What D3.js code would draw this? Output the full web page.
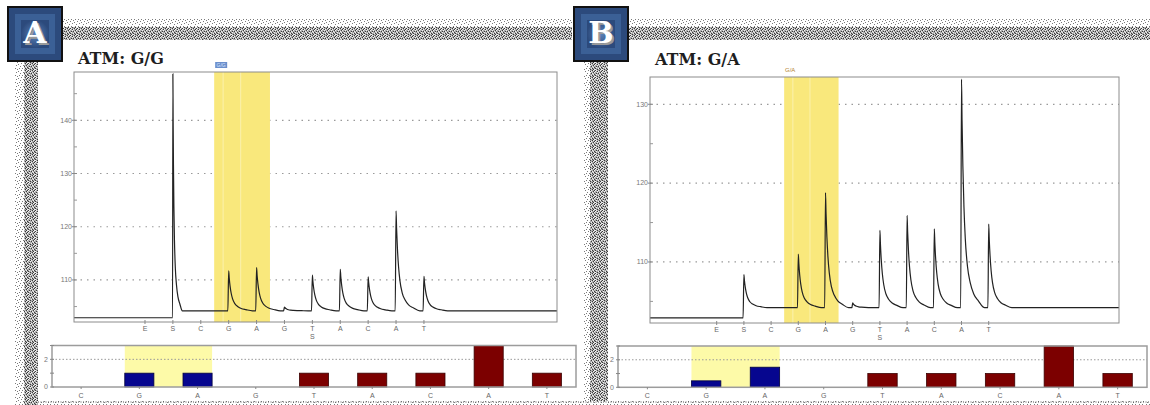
<!DOCTYPE html>
<html><head><meta charset="utf-8">
<script src="https://cdn.jsdelivr.net/npm/d3@7"></script>
<style>body{margin:0;background:#fff;} svg{display:block;}</style>
</head><body><svg id="c" width="1150" height="405"></svg>
<script>
// ---------- data ----------
const dispensations = ["E","S","C","G","A","G","T","A","C","A","T"];
const peaksA = [null,148.7,null,111.7,112.3,104.9,110.9,112.0,110.6,123.0,110.7];
const peaksB = [null,108.4,null,111.0,118.8,104.8,114.0,115.9,114.2,133.2,114.8];
const baselineA = [102.9,104.2];
const baselineB = [102.9,104.2];
const peakWidthA = [1,0.4,1,1,1,1,1,1,1,1,1];
const peakWidthB = [1,1,1,1,1,1,1,1,1,1,1];
const decayOffsets   = [-0.03,0,0.02,0.05,0.09,0.14,0.22,0.32,0.45,0.62,0.85];
const decayFractions = [0,1,0.82,0.62,0.44,0.30,0.18,0.11,0.06,0.03,0];
const yTicksA = [110,120,130,140];
const yTicksB = [110,120,130];
const yMinorA = [105,115,125,135,145];
const yMinorB = [105,115,125];
const snpRange = [2.48,4.48];
const histCategories = ["C","G","A","G","T","A","C","A","T"];
const histA = [0,1,1,0,1,1,1,3,1];
const histB = [0,0.47,1.46,0,1,1,1,3,1];
const histSnp = [1,2];
const histTicks = [0,1,2,3];
const histTickLabels = ["0","","2",""];
const titles = ["ATM: G/G","ATM: G/A"];
const badges = ["A","B"];
const snpLabels = ["G/G","G/A"];

// ---------- layout ----------
const panels = [
  {peaks:peaksA, widths:peakWidthA, base:baselineA, yTicks:yTicksA, yMinor:yMinorA, hist:histA,
   title:titles[0], badge:badges[0], snp:snpLabels[0],
   frame:{l:74,r:557,t:72,b:322}, xDom:[-2.545,14.77], yDom:[102.1,149.07],
   hframe:{l:52,r:576,t:345.5,b:387}, badgeX:8, titleX:78, titleY:64},
  {peaks:peaksB, widths:peakWidthB, base:baselineB, yTicks:yTicksB, yMinor:yMinorB, hist:histB,
   title:titles[1], badge:badges[1], snp:snpLabels[1],
   frame:{l:650,r:1119,t:77,b:323}, xDom:[-2.452,14.79], yDom:[102.26,133.46],
   hframe:{l:618,r:1147,t:346,b:387.3}, badgeX:574, titleX:655, titleY:65}
];

const svg = d3.select("#c");
const defs = svg.append("defs");
// stipple patterns (irregular halftone tiles)
const dense = defs.append("pattern").attr("id","dense").attr("patternUnits","userSpaceOnUse").attr("width",7).attr("height",7);
dense.append("rect").attr("width",7).attr("height",7).attr("fill","#acacac");
[[0,0],[4,0],[2,1],[6,1],[5,2],[1,3],[3,3],[6,4],[0,5],[4,5],[2,6],[5,6]]
  .forEach(p=>dense.append("rect").attr("x",p[0]).attr("y",p[1]).attr("width",1).attr("height",1).attr("fill","#3a3a3a"));
[[1,0],[5,0],[0,1],[3,1],[2,2],[6,2],[4,3],[1,4],[5,4],[3,5],[0,6],[6,6]]
  .forEach(p=>dense.append("rect").attr("x",p[0]).attr("y",p[1]).attr("width",1).attr("height",1).attr("fill","#f2f2f2"));
const light = defs.append("pattern").attr("id","light").attr("patternUnits","userSpaceOnUse").attr("width",7).attr("height",7);
light.append("rect").attr("width",7).attr("height",7).attr("fill","#fff");
[[0,0],[4,1],[2,2],[6,3],[1,5],[5,5],[3,6]]
  .forEach(p=>light.append("rect").attr("x",p[0]).attr("y",p[1]).attr("width",1).attr("height",1).attr("fill","#7a7a7a"));
const badgeGrad = defs.append("radialGradient").attr("id","bg");
badgeGrad.append("stop").attr("offset","0%").attr("stop-color","#5a82b8");
badgeGrad.append("stop").attr("offset","100%").attr("stop-color","#2c4a7c");

// background stipple
function band(x,y,w,h,p){svg.append("rect").attr("x",x).attr("y",y).attr("width",w).attr("height",h).attr("fill",`url(#${p})`);}
band(62,18,510,9,"light"); band(62,27,510,13,"dense");
band(628,18,522,9,"light"); band(628,27,522,13,"dense");
band(15,61,9,344,"light"); band(24,61,14,344,"dense");
band(584,40,6,365,"light"); band(590,61,18,344,"dense"); band(590,40,18,21,"dense");
band(38,401,1112,4,"light");
svg.append("line").attr("x1",38).attr("x2",1150).attr("y1",402).attr("y2",402)
  .attr("stroke","#555").attr("stroke-dasharray","1,1.5").attr("stroke-width",1);

panels.forEach(P=>{
  const g = svg.append("g");
  const F = P.frame;
  const x = d3.scaleLinear().domain(P.xDom).range([F.l,F.r]);
  const y = d3.scaleLinear().domain(P.yDom).range([F.b,F.t]);

  // badge
  const bx = P.badgeX, by = 7;
  g.append("rect").attr("x",bx).attr("y",by).attr("width",54).attr("height",54).attr("fill","#2c4a7c").attr("stroke","#111").attr("stroke-width",2);
  g.append("rect").attr("x",bx+7).attr("y",by+7).attr("width",40).attr("height",40).attr("fill","#3b6096");
  g.append("rect").attr("x",bx+13).attr("y",by+13).attr("width",28).attr("height",28).attr("fill","url(#bg)");
  g.append("text").attr("x",bx+29).attr("y",by+38).attr("text-anchor","middle")
    .attr("font-family","DejaVu Serif").attr("font-weight","bold").attr("font-size",30).attr("fill","#9a9a9a").text(P.badge);
  g.append("text").attr("x",bx+27).attr("y",by+36).attr("text-anchor","middle")
    .attr("font-family","DejaVu Serif").attr("font-weight","bold").attr("font-size",30).attr("fill","#fff").text(P.badge);

  // title
  g.append("text").attr("x",P.titleX).attr("y",P.titleY).attr("font-family","DejaVu Serif").attr("font-weight","bold")
    .attr("font-size",16).attr("fill","#1e1e1e").text(P.title);

  // frame background
  g.append("rect").attr("x",F.l).attr("y",F.t).attr("width",F.r-F.l).attr("height",F.b-F.t).attr("fill","#fff");
  // grid
  g.selectAll(".grid").data(P.yTicks).join("line").attr("x1",F.l).attr("x2",F.r)
    .attr("y1",d=>y(d)).attr("y2",d=>y(d)).attr("stroke","#9a9a9a").attr("stroke-width",1.2).attr("stroke-dasharray","1.5,5");
  // SNP highlight
  g.append("rect").attr("x",x(snpRange[0])).attr("y",F.t).attr("width",x(snpRange[1])-x(snpRange[0])).attr("height",F.b-F.t).attr("fill","#f9e87c");
  [2.8,3.43].forEach(v=>g.append("line").attr("x1",x(v)).attr("x2",x(v)).attr("y1",F.t).attr("y2",F.b).attr("stroke","#fbf1ae").attr("stroke-width",1));
  // snp tag
  const tagX = x(snpRange[0])+1;
  if(P.badge==="A"){
    g.append("rect").attr("x",tagX).attr("y",F.t-10).attr("width",12).attr("height",6).attr("fill","#6b8fcc");
    g.append("text").attr("x",tagX+6).attr("y",F.t-5.3).attr("text-anchor","middle").attr("font-family","Liberation Sans").attr("font-size",5).attr("fill","#dde6ff").text(P.snp);
  } else {
    g.append("text").attr("x",tagX+5).attr("y",F.t-5).attr("text-anchor","middle").attr("font-family","Liberation Sans").attr("font-size",6).attr("fill","#b3822e").text(P.snp);
  }

  // trace
  const pts = [[P.xDom[0], P.base[0]]];
  P.peaks.forEach((h,i)=>{
    if(h==null) return;
    decayOffsets.forEach((o,k)=>{
      const b = (k===0 && i<=1) ? P.base[0] : P.base[1];
      pts.push([i + o*P.widths[i], b + decayFractions[k]*(h-b)]);
    });
  });
  pts.push([P.xDom[1], P.base[1]]);
  g.append("path").datum(pts).attr("fill","none").attr("stroke","#222").attr("stroke-width",1.2)
    .attr("d", d3.line().x(d=>x(d[0])).y(d=>y(d[1])).curve(d3.curveMonotoneX));

  // frame
  g.append("rect").attr("x",F.l).attr("y",F.t).attr("width",F.r-F.l).attr("height",F.b-F.t).attr("fill","none").attr("stroke","#8c8c8c").attr("stroke-width",1);
  // y ticks
  g.selectAll(".yt").data(P.yTicks).join("line").attr("x1",F.l-2).attr("x2",F.l+3).attr("y1",d=>y(d)).attr("y2",d=>y(d)).attr("stroke","#888");
  g.selectAll(".ym").data(P.yMinor).join("line").attr("x1",F.l).attr("x2",F.l+3).attr("y1",d=>y(d)).attr("y2",d=>y(d)).attr("stroke","#999");
  g.selectAll(".yl").data(P.yTicks).join("text").attr("x",F.l-2).attr("y",d=>y(d)+2.3).attr("text-anchor","end")
    .attr("font-family","Liberation Sans").attr("font-size",7).attr("fill","#777").text(d=>d);
  // x ticks & labels
  g.selectAll(".xt").data(dispensations).join("line").attr("x1",(d,i)=>x(i)).attr("x2",(d,i)=>x(i)).attr("y1",F.b-2).attr("y2",F.b+2).attr("stroke","#888");
  g.selectAll(".xl").data(dispensations).join("text").attr("x",(d,i)=>x(i)).attr("y",F.b+9).attr("text-anchor","middle")
    .attr("font-family","Liberation Sans").attr("font-size",7).attr("fill","#666").text(d=>d);
  g.append("text").attr("x",x(6)).attr("y",F.b+17).attr("text-anchor","middle").attr("font-family","Liberation Sans").attr("font-size",7).attr("fill","#666").text("S");

  // histogram
  const H = P.hframe;
  const hx = d3.scaleBand().domain(d3.range(histCategories.length)).range([H.l,H.r]).paddingInner(0.5).paddingOuter(0.25);
  const hy = d3.scaleLinear().domain([0,3]).range([H.b,H.t]);
  g.append("rect").attr("x",hx(histSnp[0])).attr("y",H.t).attr("width",hx(histSnp[1])+hx.bandwidth()-hx(histSnp[0])).attr("height",H.b-H.t).attr("fill","#fdfaa8");
  g.append("line").attr("x1",H.l).attr("x2",H.r).attr("y1",hy(2)).attr("y2",hy(2)).attr("stroke","#999").attr("stroke-dasharray","1.5,2");
  g.selectAll(".bar").data(P.hist).join("rect").attr("x",(d,i)=>hx(i)).attr("width",hx.bandwidth())
    .attr("y",d=>hy(d)).attr("height",d=>H.b-hy(d))
    .attr("fill",(d,i)=>histSnp.includes(i)?"#06068f":"#7c0000")
    .attr("stroke",(d,i)=>histSnp.includes(i)?"#020240":"#3a0000").attr("stroke-width",0.8);
  g.append("rect").attr("x",H.l).attr("y",H.t).attr("width",H.r-H.l).attr("height",H.b-H.t).attr("fill","none").attr("stroke","#9c9c9c").attr("stroke-width",1.5);
  g.selectAll(".ht").data(histTicks).join("line").attr("x1",H.l-2).attr("x2",H.l+2).attr("y1",d=>hy(d)).attr("y2",d=>hy(d)).attr("stroke","#888");
  g.selectAll(".hl").data(histTicks).join("text").attr("x",H.l-4).attr("y",d=>hy(d)+2.3).attr("text-anchor","end")
    .attr("font-family","Liberation Sans").attr("font-size",7).attr("fill","#777").text((d,i)=>histTickLabels[i]);
  g.selectAll(".hxt").data(histCategories).join("line").attr("x1",(d,i)=>hx(i)+hx.bandwidth()/2).attr("x2",(d,i)=>hx(i)+hx.bandwidth()/2)
    .attr("y1",H.b).attr("y2",H.b+2).attr("stroke","#888");
  g.selectAll(".hxl").data(histCategories).join("text").attr("x",(d,i)=>hx(i)+hx.bandwidth()/2).attr("y",H.b+11).attr("text-anchor","middle")
    .attr("font-family","Liberation Sans").attr("font-size",7).attr("fill","#666").text(d=>d);
});
</script></body></html>
